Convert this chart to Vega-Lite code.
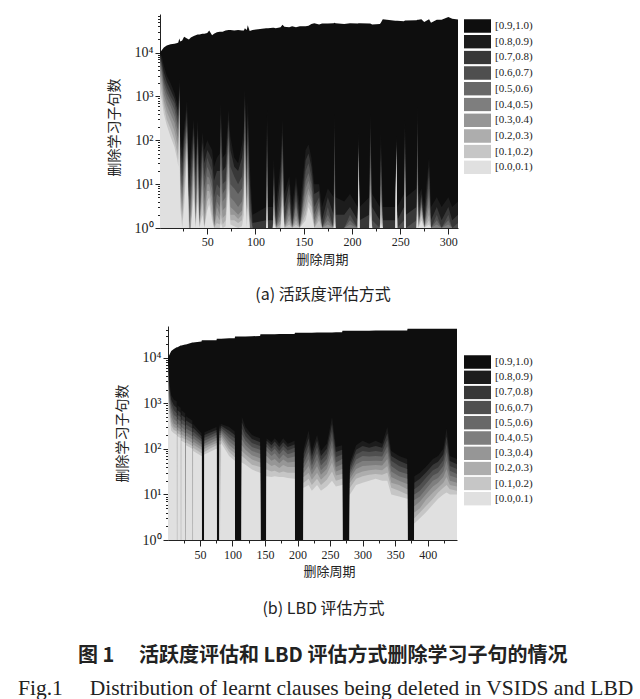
{
  "$schema": "https://vega.github.io/schema/vega-lite/v6.json",
  "background": "white",
  "padding": {"left": 18, "top": 8, "right": 0, "bottom": 0},
  "title": {
    "text": "\u200b\u3000\u3000\u3000图 1\u3000\u00a0活跃度评估和 LBD 评估方式删除学习子句的情况",
    "subtitle": "Fig.1\u00a0\u00a0\u00a0\u00a0\u00a0Distribution of learnt clauses being deleted in VSIDS and LBD",
    "orient": "bottom",
    "anchor": "start",
    "frame": "group",
    "dx": -142,
    "offset": 29,
    "font": "Noto Sans CJK SC",
    "fontSize": 20,
    "fontWeight": "bold",
    "color": "#222222",
    "subtitleFont": "Liberation Serif",
    "subtitleFontSize": 21.5,
    "subtitleColor": "#222222",
    "subtitlePadding": 12
  },
  "datasets": {
    "a": [
      {"x":1,"b9":10000,"b8":9500,"b7":9000,"b6":8000,"b5":7000,"b4":6000,"b3":4500,"b2":3000,"b1":2000,"b0":1200},
      {"x":3,"b9":11500,"b8":8000,"b7":6000,"b6":5000,"b5":4000,"b4":3200,"b3":2500,"b2":1800,"b1":1200,"b0":800},
      {"x":5,"b9":13000,"b8":5000,"b7":3500,"b6":2500,"b5":2000,"b4":1500,"b3":1100,"b2":800,"b1":600,"b0":400},
      {"x":8,"b9":14500,"b8":3000,"b7":2200,"b6":1600,"b5":1200,"b4":900,"b3":650,"b2":450,"b1":300,"b0":220},
      {"x":12,"b9":15500,"b8":2000,"b7":1400,"b6":1000,"b5":800,"b4":600,"b3":400,"b2":280,"b1":180,"b0":120},
      {"x":16,"b9":16000,"b8":1200,"b7":900,"b6":700,"b5":500,"b4":350,"b3":250,"b2":160,"b1":100,"b0":70},
      {"x":19,"b9":16500,"b8":700,"b7":500,"b6":350,"b5":250,"b4":180,"b3":120,"b2":80,"b1":50,"b0":35},
      {"x":20,"b9":17000,"b8":500,"b7":300,"b6":200,"b5":150,"b4":100,"b3":70,"b2":50,"b1":35,"b0":25},
      {"x":21,"b9":21000,"b8":2500,"b7":2000,"b6":1600,"b5":1300,"b4":1000,"b3":800,"b2":600,"b1":400,"b0":250},
      {"x":22,"b9":18000,"b8":120,"b7":70,"b6":40,"b5":25,"b4":18,"b3":12,"b2":8,"b1":5,"b0":3},
      {"x":24,"b9":19000,"b8":60,"b7":30,"b6":15,"b5":8,"b4":5,"b3":3,"b2":2,"b1":1.5,"b0":1},
      {"x":26,"b9":23000,"b8":200,"b7":120,"b6":80,"b5":50,"b4":30,"b3":20,"b2":12,"b1":6,"b0":3},
      {"x":29,"b9":21000,"b8":800,"b7":500,"b6":300,"b5":220,"b4":160,"b3":120,"b2":90,"b1":60,"b0":40},
      {"x":31,"b9":20000,"b8":20,"b7":8,"b6":4,"b5":2,"b4":1,"b3":1,"b2":1,"b1":1,"b0":1},
      {"x":33,"b9":22000,"b8":60,"b7":25,"b6":10,"b5":5,"b4":3,"b3":2,"b2":1,"b1":1,"b0":1},
      {"x":36,"b9":24000,"b8":300,"b7":200,"b6":130,"b5":90,"b4":60,"b3":40,"b2":25,"b1":12,"b0":5},
      {"x":38,"b9":25000,"b8":30,"b7":15,"b6":8,"b5":3,"b4":1,"b3":1,"b2":1,"b1":1,"b0":1},
      {"x":40,"b9":26000,"b8":300,"b7":180,"b6":120,"b5":80,"b4":50,"b3":30,"b2":15,"b1":8,"b0":4},
      {"x":42,"b9":26000,"b8":20,"b7":8,"b6":3,"b5":1,"b4":1,"b3":1,"b2":1,"b1":1,"b0":1},
      {"x":45,"b9":27000,"b8":150,"b7":90,"b6":60,"b5":40,"b4":25,"b3":15,"b2":8,"b1":4,"b0":2},
      {"x":47,"b9":27000,"b8":60,"b7":30,"b6":15,"b5":8,"b4":4,"b3":2,"b2":1,"b1":1,"b0":1},
      {"x":50,"b9":28000,"b8":100,"b7":60,"b6":40,"b5":25,"b4":15,"b3":10,"b2":7,"b1":4,"b0":2.5},
      {"x":52,"b9":32000,"b8":80,"b7":50,"b6":30,"b5":20,"b4":14,"b3":10,"b2":7,"b1":5,"b0":3.5},
      {"x":55,"b9":25000,"b8":60,"b7":35,"b6":20,"b5":12,"b4":8,"b3":5,"b2":3.5,"b1":2,"b0":1.5},
      {"x":57,"b9":27000,"b8":25,"b7":12,"b6":5,"b5":2,"b4":1,"b3":1,"b2":1,"b1":1,"b0":1},
      {"x":60,"b9":29000,"b8":40,"b7":20,"b6":10,"b5":6,"b4":4,"b3":3,"b2":2,"b1":1.3,"b0":1},
      {"x":63,"b9":30000,"b8":50,"b7":20,"b6":8,"b5":5,"b4":3,"b3":2,"b2":1.5,"b1":1.2,"b0":1},
      {"x":64,"b9":30000,"b8":700,"b7":400,"b6":200,"b5":80,"b4":30,"b3":10,"b2":4,"b1":2,"b0":1.3},
      {"x":66,"b9":30000,"b8":40,"b7":20,"b6":10,"b5":6,"b4":4,"b3":2.5,"b2":1.7,"b1":1.2,"b0":1},
      {"x":69,"b9":32000,"b8":50,"b7":25,"b6":12,"b5":8,"b4":5,"b3":3,"b2":2,"b1":1.5,"b0":1.1},
      {"x":72,"b9":33000,"b8":500,"b7":300,"b6":180,"b5":120,"b4":80,"b3":55,"b2":30,"b1":15,"b0":8},
      {"x":74,"b9":33000,"b8":120,"b7":60,"b6":25,"b5":10,"b4":5,"b3":3,"b2":2,"b1":1.5,"b0":1.2},
      {"x":78,"b9":32000,"b8":40,"b7":25,"b6":15,"b5":8,"b4":4,"b3":2.5,"b2":2,"b1":1.5,"b0":1.1},
      {"x":82,"b9":33000,"b8":30,"b7":20,"b6":10,"b5":6,"b4":3,"b3":2,"b2":1.6,"b1":1.3,"b0":1},
      {"x":86,"b9":32000,"b8":80,"b7":40,"b6":15,"b5":8,"b4":4,"b3":2.5,"b2":2,"b1":1.5,"b0":1.1},
      {"x":88,"b9":32000,"b8":200,"b7":100,"b6":50,"b5":25,"b4":15,"b3":10,"b2":6,"b1":4,"b0":2},
      {"x":89,"b9":36000,"b8":1500,"b7":1000,"b6":600,"b5":300,"b4":150,"b3":100,"b2":60,"b1":35,"b0":20},
      {"x":91,"b9":33000,"b8":40,"b7":20,"b6":8,"b5":4,"b4":3,"b3":2,"b2":1.5,"b1":1.2,"b0":1},
      {"x":92,"b9":42000,"b8":800,"b7":400,"b6":200,"b5":100,"b4":50,"b3":25,"b2":12,"b1":6,"b0":3},
      {"x":94,"b9":31000,"b8":30,"b7":12,"b6":5,"b5":2,"b4":1,"b3":1,"b2":1,"b1":1,"b0":1},
      {"x":97,"b9":33000,"b8":2,"b7":1.3,"b6":1,"b5":1,"b4":1,"b3":1,"b2":1,"b1":1,"b0":1},
      {"x":111,"b9":36000,"b8":3,"b7":1.5,"b6":1,"b5":1,"b4":1,"b3":1,"b2":1,"b1":1,"b0":1},
      {"x":112,"b9":36000,"b8":500,"b7":300,"b6":150,"b5":60,"b4":25,"b3":10,"b2":5,"b1":3,"b0":1.5},
      {"x":113,"b9":36000,"b8":3,"b7":1.5,"b6":1,"b5":1,"b4":1,"b3":1,"b2":1,"b1":1,"b0":1},
      {"x":118,"b9":37000,"b8":3,"b7":1.5,"b6":1,"b5":1,"b4":1,"b3":1,"b2":1,"b1":1,"b0":1},
      {"x":119,"b9":37000,"b8":40,"b7":25,"b6":15,"b5":10,"b4":6,"b3":4,"b2":3,"b1":2,"b0":1.3},
      {"x":121,"b9":36000,"b8":3,"b7":1.5,"b6":1,"b5":1,"b4":1,"b3":1,"b2":1,"b1":1,"b0":1},
      {"x":126,"b9":38000,"b8":30,"b7":15,"b6":6,"b5":3,"b4":2,"b3":1.5,"b2":1.2,"b1":1,"b0":1},
      {"x":128,"b9":43000,"b8":300,"b7":150,"b6":80,"b5":40,"b4":20,"b3":12,"b2":7,"b1":5,"b0":3},
      {"x":130,"b9":39000,"b8":6,"b7":3,"b6":1.5,"b5":1.2,"b4":1,"b3":1,"b2":1,"b1":1,"b0":1},
      {"x":135,"b9":38000,"b8":15,"b7":10,"b6":6,"b5":4,"b4":3,"b3":2,"b2":1.5,"b1":1.2,"b0":1},
      {"x":138,"b9":40000,"b8":3,"b7":1.5,"b6":1,"b5":1,"b4":1,"b3":1,"b2":1,"b1":1,"b0":1},
      {"x":142,"b9":38000,"b8":15,"b7":10,"b6":6,"b5":4,"b4":3,"b3":2,"b2":1.5,"b1":1.2,"b0":1},
      {"x":146,"b9":40000,"b8":3,"b7":1.5,"b6":1,"b5":1,"b4":1,"b3":1,"b2":1,"b1":1,"b0":1},
      {"x":152,"b9":40000,"b8":60,"b7":35,"b6":20,"b5":12,"b4":8,"b3":5,"b2":3,"b1":2,"b0":1.5},
      {"x":155,"b9":41000,"b8":80,"b7":50,"b6":30,"b5":18,"b4":12,"b3":8,"b2":6,"b1":4,"b0":3},
      {"x":158,"b9":45000,"b8":40,"b7":25,"b6":15,"b5":10,"b4":7,"b3":5,"b2":4,"b1":3,"b0":2},
      {"x":161,"b9":47000,"b8":10,"b7":6,"b6":3,"b5":2,"b4":1.5,"b3":1.2,"b2":1,"b1":1,"b0":1},
      {"x":166,"b9":44000,"b8":10,"b7":7,"b6":5,"b5":4,"b4":3,"b3":2.5,"b2":2,"b1":1.5,"b0":1},
      {"x":169,"b9":46000,"b8":3,"b7":1.5,"b6":1,"b5":1,"b4":1,"b3":1,"b2":1,"b1":1,"b0":1},
      {"x":175,"b9":46000,"b8":8,"b7":5,"b6":3,"b5":2,"b4":1.5,"b3":1.2,"b2":1,"b1":1,"b0":1},
      {"x":181,"b9":47000,"b8":5,"b7":2,"b6":1,"b5":1,"b4":1,"b3":1,"b2":1,"b1":1,"b0":1},
      {"x":182,"b9":48000,"b8":400,"b7":200,"b6":80,"b5":30,"b4":12,"b3":7,"b2":4,"b1":2,"b0":1.3},
      {"x":183,"b9":47000,"b8":5,"b7":2,"b6":1,"b5":1,"b4":1,"b3":1,"b2":1,"b1":1,"b0":1},
      {"x":192,"b9":45000,"b8":4,"b7":2,"b6":1,"b5":1,"b4":1,"b3":1,"b2":1,"b1":1,"b0":1},
      {"x":198,"b9":47000,"b8":6,"b7":3,"b6":2,"b5":1.5,"b4":1.2,"b3":1,"b2":1,"b1":1,"b0":1},
      {"x":206,"b9":46000,"b8":3,"b7":1.5,"b6":1,"b5":1,"b4":1,"b3":1,"b2":1,"b1":1,"b0":1},
      {"x":207,"b9":47000,"b8":150,"b7":110,"b6":85,"b5":70,"b4":55,"b3":45,"b2":35,"b1":25,"b0":15},
      {"x":208,"b9":47000,"b8":3,"b7":1.5,"b6":1,"b5":1,"b4":1,"b3":1,"b2":1,"b1":1,"b0":1},
      {"x":218,"b9":46000,"b8":5,"b7":2,"b6":1,"b5":1,"b4":1,"b3":1,"b2":1,"b1":1,"b0":1},
      {"x":219,"b9":46000,"b8":400,"b7":200,"b6":100,"b5":50,"b4":25,"b3":12,"b2":7,"b1":4,"b0":2},
      {"x":221,"b9":44000,"b8":6,"b7":3,"b6":1.5,"b5":1,"b4":1,"b3":1,"b2":1,"b1":1,"b0":1},
      {"x":229,"b9":45000,"b8":3,"b7":1.5,"b6":1,"b5":1,"b4":1,"b3":1,"b2":1,"b1":1,"b0":1},
      {"x":230,"b9":48000,"b8":150,"b7":80,"b6":40,"b5":20,"b4":10,"b3":6,"b2":4,"b1":2,"b0":1.3},
      {"x":232,"b9":58000,"b8":3,"b7":1.5,"b6":1,"b5":1,"b4":1,"b3":1,"b2":1,"b1":1,"b0":1},
      {"x":245,"b9":53000,"b8":3,"b7":1.5,"b6":1,"b5":1,"b4":1,"b3":1,"b2":1,"b1":1,"b0":1},
      {"x":246,"b9":53000,"b8":130,"b7":110,"b6":95,"b5":80,"b4":70,"b3":60,"b2":50,"b1":40,"b0":30},
      {"x":247,"b9":53000,"b8":3,"b7":1.5,"b6":1,"b5":1,"b4":1,"b3":1,"b2":1,"b1":1,"b0":1},
      {"x":254,"b9":52000,"b8":6,"b7":3,"b6":1.5,"b5":1,"b4":1,"b3":1,"b2":1,"b1":1,"b0":1},
      {"x":255,"b9":54000,"b8":300,"b7":200,"b6":120,"b5":70,"b4":40,"b3":25,"b2":15,"b1":8,"b0":3},
      {"x":256,"b9":54000,"b8":5,"b7":2,"b6":1,"b5":1,"b4":1,"b3":1,"b2":1,"b1":1,"b0":1},
      {"x":267,"b9":55000,"b8":8,"b7":3,"b6":1.5,"b5":1,"b4":1,"b3":1,"b2":1,"b1":1,"b0":1},
      {"x":268,"b9":56000,"b8":600,"b7":300,"b6":150,"b5":60,"b4":25,"b3":12,"b2":7,"b1":4,"b0":2},
      {"x":269,"b9":56000,"b8":5,"b7":2,"b6":1,"b5":1,"b4":1,"b3":1,"b2":1,"b1":1,"b0":1},
      {"x":272,"b9":58000,"b8":8,"b7":6,"b6":5,"b5":4,"b4":3.5,"b3":3,"b2":2.5,"b1":2,"b0":1.5},
      {"x":275,"b9":50000,"b8":3,"b7":1.5,"b6":1,"b5":1,"b4":1,"b3":1,"b2":1,"b1":1,"b0":1},
      {"x":280,"b9":58000,"b8":40,"b7":25,"b6":15,"b5":8,"b4":5,"b3":3,"b2":2,"b1":1.5,"b0":1.2},
      {"x":282,"b9":48000,"b8":3,"b7":1.5,"b6":1,"b5":1,"b4":1,"b3":1,"b2":1,"b1":1,"b0":1},
      {"x":288,"b9":56000,"b8":5,"b7":3,"b6":2,"b5":1.5,"b4":1.2,"b3":1,"b2":1,"b1":1,"b0":1},
      {"x":293,"b9":56000,"b8":3,"b7":1.5,"b6":1,"b5":1,"b4":1,"b3":1,"b2":1,"b1":1,"b0":1},
      {"x":300,"b9":65000,"b8":5,"b7":3,"b6":2,"b5":1.5,"b4":1.2,"b3":1,"b2":1,"b1":1,"b0":1},
      {"x":304,"b9":59000,"b8":3,"b7":1.5,"b6":1,"b5":1,"b4":1,"b3":1,"b2":1,"b1":1,"b0":1},
      {"x":310,"b9":57000,"b8":4,"b7":2,"b6":1.3,"b5":1,"b4":1,"b3":1,"b2":1,"b1":1,"b0":1}
    ],
    "b": [
      {"x":1,"b9":10000,"b8":9000,"b7":8000,"b6":7000,"b5":6000,"b4":5000,"b3":4000,"b2":3000,"b1":2200,"b0":1500},
      {"x":3,"b9":11500,"b8":3000,"b7":2400,"b6":1900,"b5":1500,"b4":1200,"b3":1000,"b2":800,"b1":650,"b0":500},
      {"x":6,"b9":14000,"b8":1500,"b7":1200,"b6":1000,"b5":800,"b4":650,"b3":500,"b2":400,"b1":320,"b0":250},
      {"x":10,"b9":15500,"b8":1200,"b7":900,"b6":700,"b5":550,"b4":450,"b3":360,"b2":300,"b1":260,"b0":220},
      {"x":14.4,"b9":17000,"b8":1100,"b7":800,"b6":600,"b5":500,"b4":400,"b3":330,"b2":280,"b1":240,"b0":200},
      {"x":14.5,"b9":17000,"b8":1,"b7":1,"b6":1,"b5":1,"b4":1,"b3":1,"b2":1,"b1":1,"b0":1},
      {"x":15.5,"b9":17000,"b8":1,"b7":1,"b6":1,"b5":1,"b4":1,"b3":1,"b2":1,"b1":1,"b0":1},
      {"x":15.6,"b9":17000,"b8":900,"b7":700,"b6":550,"b5":450,"b4":360,"b3":300,"b2":260,"b1":220,"b0":190},
      {"x":20.4,"b9":18500,"b8":800,"b7":620,"b6":500,"b5":400,"b4":320,"b3":270,"b2":230,"b1":200,"b0":170},
      {"x":20.5,"b9":18500,"b8":1,"b7":1,"b6":1,"b5":1,"b4":1,"b3":1,"b2":1,"b1":1,"b0":1},
      {"x":21.5,"b9":18500,"b8":1,"b7":1,"b6":1,"b5":1,"b4":1,"b3":1,"b2":1,"b1":1,"b0":1},
      {"x":21.6,"b9":18500,"b8":700,"b7":550,"b6":440,"b5":360,"b4":300,"b3":250,"b2":210,"b1":180,"b0":150},
      {"x":27.4,"b9":19500,"b8":600,"b7":480,"b6":390,"b5":320,"b4":260,"b3":220,"b2":185,"b1":160,"b0":135},
      {"x":27.5,"b9":19500,"b8":1,"b7":1,"b6":1,"b5":1,"b4":1,"b3":1,"b2":1,"b1":1,"b0":1},
      {"x":28.5,"b9":19500,"b8":1,"b7":1,"b6":1,"b5":1,"b4":1,"b3":1,"b2":1,"b1":1,"b0":1},
      {"x":28.6,"b9":19500,"b8":520,"b7":420,"b6":340,"b5":280,"b4":230,"b3":195,"b2":165,"b1":140,"b0":120},
      {"x":38.4,"b9":21500,"b8":420,"b7":340,"b6":280,"b5":230,"b4":190,"b3":160,"b2":135,"b1":115,"b0":100},
      {"x":38.5,"b9":21500,"b8":1,"b7":1,"b6":1,"b5":1,"b4":1,"b3":1,"b2":1,"b1":1,"b0":1},
      {"x":39.5,"b9":21500,"b8":1,"b7":1,"b6":1,"b5":1,"b4":1,"b3":1,"b2":1,"b1":1,"b0":1},
      {"x":39.6,"b9":21500,"b8":350,"b7":290,"b6":240,"b5":200,"b4":170,"b3":145,"b2":125,"b1":105,"b0":90},
      {"x":52.5,"b9":22500,"b8":220,"b7":190,"b6":165,"b5":145,"b4":125,"b3":110,"b2":95,"b1":80,"b0":70},
      {"x":53,"b9":24000,"b8":1,"b7":1,"b6":1,"b5":1,"b4":1,"b3":1,"b2":1,"b1":1,"b0":1},
      {"x":56.5,"b9":24000,"b8":1,"b7":1,"b6":1,"b5":1,"b4":1,"b3":1,"b2":1,"b1":1,"b0":1},
      {"x":57,"b9":24000,"b8":230,"b7":200,"b6":175,"b5":150,"b4":130,"b3":115,"b2":100,"b1":85,"b0":75},
      {"x":65,"b9":24000,"b8":260,"b7":225,"b6":195,"b5":170,"b4":150,"b3":130,"b2":115,"b1":100,"b0":85},
      {"x":75.5,"b9":24000,"b8":300,"b7":260,"b6":230,"b5":200,"b4":175,"b3":155,"b2":135,"b1":120,"b0":100},
      {"x":76,"b9":26000,"b8":1,"b7":1,"b6":1,"b5":1,"b4":1,"b3":1,"b2":1,"b1":1,"b0":1},
      {"x":80,"b9":26000,"b8":1,"b7":1,"b6":1,"b5":1,"b4":1,"b3":1,"b2":1,"b1":1,"b0":1},
      {"x":80.5,"b9":26000,"b8":340,"b7":310,"b6":280,"b5":250,"b4":225,"b3":200,"b2":175,"b1":150,"b0":125},
      {"x":81.5,"b9":26000,"b8":340,"b7":310,"b6":280,"b5":250,"b4":225,"b3":200,"b2":175,"b1":150,"b0":125},
      {"x":82,"b9":26000,"b8":1,"b7":1,"b6":1,"b5":1,"b4":1,"b3":1,"b2":1,"b1":1,"b0":1},
      {"x":82.6,"b9":26000,"b8":350,"b7":320,"b6":290,"b5":260,"b4":235,"b3":210,"b2":185,"b1":160,"b0":135},
      {"x":95,"b9":26500,"b8":300,"b7":250,"b6":210,"b5":175,"b4":145,"b3":120,"b2":100,"b1":85,"b0":70},
      {"x":103.5,"b9":26500,"b8":240,"b7":200,"b6":170,"b5":140,"b4":115,"b3":95,"b2":80,"b1":65,"b0":55},
      {"x":104,"b9":29000,"b8":1,"b7":1,"b6":1,"b5":1,"b4":1,"b3":1,"b2":1,"b1":1,"b0":1},
      {"x":114,"b9":29000,"b8":1,"b7":1,"b6":1,"b5":1,"b4":1,"b3":1,"b2":1,"b1":1,"b0":1},
      {"x":114.5,"b9":29000,"b8":500,"b7":380,"b6":280,"b5":210,"b4":160,"b3":120,"b2":90,"b1":70,"b0":50},
      {"x":120,"b9":29000,"b8":300,"b7":240,"b6":190,"b5":150,"b4":120,"b3":95,"b2":75,"b1":60,"b0":45},
      {"x":130,"b9":29500,"b8":200,"b7":165,"b6":135,"b5":110,"b4":90,"b3":72,"b2":58,"b1":45,"b0":35},
      {"x":142.5,"b9":30000,"b8":170,"b7":140,"b6":115,"b5":95,"b4":78,"b3":62,"b2":50,"b1":40,"b0":30},
      {"x":143,"b9":32500,"b8":1,"b7":1,"b6":1,"b5":1,"b4":1,"b3":1,"b2":1,"b1":1,"b0":1},
      {"x":152,"b9":32500,"b8":1,"b7":1,"b6":1,"b5":1,"b4":1,"b3":1,"b2":1,"b1":1,"b0":1},
      {"x":152.5,"b9":32500,"b8":170,"b7":150,"b6":130,"b5":110,"b4":90,"b3":70,"b2":50,"b1":35,"b0":25},
      {"x":160,"b9":32500,"b8":140,"b7":120,"b6":100,"b5":85,"b4":70,"b3":55,"b2":42,"b1":32,"b0":24},
      {"x":165,"b9":32500,"b8":170,"b7":145,"b6":120,"b5":100,"b4":80,"b3":60,"b2":45,"b1":33,"b0":25},
      {"x":172,"b9":33000,"b8":130,"b7":110,"b6":90,"b5":75,"b4":60,"b3":48,"b2":38,"b1":30,"b0":24},
      {"x":178,"b9":33000,"b8":170,"b7":140,"b6":115,"b5":95,"b4":75,"b3":58,"b2":44,"b1":32,"b0":24},
      {"x":185,"b9":33000,"b8":130,"b7":110,"b6":92,"b5":76,"b4":62,"b3":50,"b2":40,"b1":30,"b0":23},
      {"x":195.5,"b9":33000,"b8":150,"b7":125,"b6":105,"b5":85,"b4":68,"b3":52,"b2":40,"b1":30,"b0":22},
      {"x":196,"b9":35000,"b8":1,"b7":1,"b6":1,"b5":1,"b4":1,"b3":1,"b2":1,"b1":1,"b0":1},
      {"x":209,"b9":35000,"b8":1,"b7":1,"b6":1,"b5":1,"b4":1,"b3":1,"b2":1,"b1":1,"b0":1},
      {"x":209.5,"b9":35000,"b8":100,"b7":80,"b6":62,"b5":48,"b4":38,"b3":30,"b2":24,"b1":18,"b0":14},
      {"x":217,"b9":35000,"b8":250,"b7":170,"b6":120,"b5":85,"b4":60,"b3":42,"b2":30,"b1":22,"b0":16},
      {"x":222,"b9":35000,"b8":90,"b7":70,"b6":55,"b5":43,"b4":34,"b3":27,"b2":21,"b1":16,"b0":12},
      {"x":230,"b9":35500,"b8":200,"b7":150,"b6":110,"b5":80,"b4":58,"b3":42,"b2":30,"b1":22,"b0":16},
      {"x":236,"b9":35500,"b8":90,"b7":70,"b6":55,"b5":43,"b4":34,"b3":27,"b2":21,"b1":16,"b0":12},
      {"x":245,"b9":35500,"b8":130,"b7":100,"b6":78,"b5":60,"b4":46,"b3":36,"b2":28,"b1":21,"b0":15},
      {"x":253,"b9":35500,"b8":500,"b7":350,"b6":240,"b5":160,"b4":110,"b3":75,"b2":50,"b1":32,"b0":20},
      {"x":259,"b9":36000,"b8":110,"b7":85,"b6":66,"b5":50,"b4":40,"b3":32,"b2":26,"b1":20,"b0":15},
      {"x":268.5,"b9":36000,"b8":120,"b7":95,"b6":75,"b5":60,"b4":46,"b3":36,"b2":28,"b1":22,"b0":16},
      {"x":269,"b9":39000,"b8":1,"b7":1,"b6":1,"b5":1,"b4":1,"b3":1,"b2":1,"b1":1,"b0":1},
      {"x":280,"b9":39000,"b8":1,"b7":1,"b6":1,"b5":1,"b4":1,"b3":1,"b2":1,"b1":1,"b0":1},
      {"x":280.5,"b9":39000,"b8":50,"b7":42,"b6":35,"b5":30,"b4":26,"b3":22,"b2":18,"b1":14,"b0":10},
      {"x":290,"b9":39000,"b8":120,"b7":95,"b6":75,"b5":58,"b4":46,"b3":36,"b2":28,"b1":22,"b0":16},
      {"x":300,"b9":39000,"b8":150,"b7":115,"b6":90,"b5":70,"b4":54,"b3":42,"b2":32,"b1":25,"b0":18},
      {"x":310,"b9":39000,"b8":130,"b7":105,"b6":85,"b5":68,"b4":54,"b3":43,"b2":34,"b1":27,"b0":20},
      {"x":320,"b9":39500,"b8":150,"b7":115,"b6":90,"b5":70,"b4":55,"b3":44,"b2":35,"b1":28,"b0":22},
      {"x":330,"b9":39500,"b8":130,"b7":105,"b6":85,"b5":68,"b4":54,"b3":43,"b2":34,"b1":27,"b0":20},
      {"x":338,"b9":39500,"b8":300,"b7":220,"b6":160,"b5":115,"b4":85,"b3":60,"b2":42,"b1":30,"b0":20},
      {"x":344,"b9":39500,"b8":90,"b7":70,"b6":55,"b5":42,"b4":32,"b3":24,"b2":18,"b1":14,"b0":10},
      {"x":356,"b9":39500,"b8":70,"b7":55,"b6":42,"b5":32,"b4":25,"b3":20,"b2":16,"b1":12,"b0":9},
      {"x":368.5,"b9":39500,"b8":60,"b7":46,"b6":36,"b5":28,"b4":22,"b3":17,"b2":13,"b1":10,"b0":8},
      {"x":369,"b9":43000,"b8":1,"b7":1,"b6":1,"b5":1,"b4":1,"b3":1,"b2":1,"b1":1,"b0":1},
      {"x":379,"b9":43000,"b8":1,"b7":1,"b6":1,"b5":1,"b4":1,"b3":1,"b2":1,"b1":1,"b0":1},
      {"x":379.5,"b9":43000,"b8":25,"b7":18,"b6":13,"b5":10,"b4":7.5,"b3":5.5,"b2":4,"b1":3,"b0":2.3},
      {"x":388,"b9":43000,"b8":30,"b7":22,"b6":16,"b5":12,"b4":9,"b3":7,"b2":5,"b1":4,"b0":3},
      {"x":397,"b9":43000,"b8":40,"b7":30,"b6":23,"b5":17,"b4":13,"b3":10,"b2":7.5,"b1":5.5,"b0":4},
      {"x":408,"b9":43000,"b8":60,"b7":45,"b6":34,"b5":26,"b4":20,"b3":15,"b2":11,"b1":8,"b0":6},
      {"x":416,"b9":43000,"b8":70,"b7":52,"b6":39,"b5":30,"b4":23,"b3":18,"b2":14,"b1":11,"b0":8},
      {"x":424,"b9":43000,"b8":100,"b7":75,"b6":56,"b5":42,"b4":32,"b3":24,"b2":18,"b1":14,"b0":10},
      {"x":429,"b9":43000,"b8":280,"b7":190,"b6":130,"b5":85,"b4":55,"b3":36,"b2":24,"b1":16,"b0":11},
      {"x":434,"b9":43000,"b8":70,"b7":54,"b6":42,"b5":33,"b4":26,"b3":20,"b2":16,"b1":13,"b0":10},
      {"x":445,"b9":43000,"b8":60,"b7":46,"b6":36,"b5":28,"b4":23,"b3":18,"b2":15,"b1":12,"b0":10}
    ]
  },
  "spacing": 20,
  "vconcat": [
    {
      "width": 298,
      "height": 214,
      "title": {
        "text": "(a) 活跃度评估方式",
        "orient": "bottom",
        "anchor": "middle",
        "dx": 14,
        "offset": 21,
        "font": "Noto Sans CJK SC",
        "fontSize": 16,
        "fontWeight": "normal",
        "color": "#222222"
      },
      "data": {"name": "a"},
      "transform": [
        {"fold": ["b9", "b8", "b7", "b6", "b5", "b4", "b3", "b2", "b1", "b0"], "as": ["band", "top"]}
      ],
      "mark": {"type": "area", "interpolate": "linear"},
      "encoding": {
        "x": {
          "field": "x",
          "type": "quantitative",
          "title": "删除周期",
          "scale": {"domain": [1, 310], "nice": false, "zero": false},
          "axis": {
            "values": [25, 50, 75, 100, 125, 150, 175, 200, 225, 250, 275, 300],
            "labelExpr": "datum.value % 50 == 0 ? datum.label : ''",
            "tickSize": {"condition": {"test": "datum.value % 50 == 0", "value": 6}, "value": 3},
            "labelFont": "Liberation Serif",
            "labelFontSize": 12,
            "labelColor": "#222222",
            "labelPadding": 2,
            "titleFont": "Noto Sans CJK SC",
            "titleFontSize": 13,
            "titleFontWeight": "normal",
            "titleColor": "#222222",
            "titlePadding": 6,
            "titleX": 162,
            "grid": false,
            "domainColor": "#222222",
            "tickColor": "#222222"
          }
        },
        "y": {
          "field": "top",
          "type": "quantitative",
          "stack": null,
          "title": "删除学习子句数",
          "scale": {"type": "log", "domain": [1, 76000], "nice": false, "clamp": true},
          "axis": {
            "values": [1, 2, 3, 4, 5, 6, 7, 8, 9, 10, 20, 30, 40, 50, 60, 70, 80, 90, 100, 200, 300, 400, 500, 600, 700, 800, 900, 1000, 2000, 3000, 4000, 5000, 6000, 7000, 8000, 9000, 10000, 20000, 30000, 40000, 50000, 60000, 70000],
            "labelExpr": "datum.value == 1 ? '10⁰' : datum.value == 10 ? '10¹' : datum.value == 100 ? '10²' : datum.value == 1000 ? '10³' : datum.value == 10000 ? '10⁴' : ''",
            "tickSize": {"condition": {"test": "datum.value == 1 || datum.value == 10 || datum.value == 100 || datum.value == 1000 || datum.value == 10000", "value": 5}, "value": 2.5},
            "labelOverlap": false,
            "labelFont": "Liberation Serif",
            "labelFontSize": 14,
            "labelColor": "#222222",
            "titleFont": "Noto Sans CJK SC",
            "titleFontSize": 14,
            "titleFontWeight": "normal",
            "titleColor": "#222222",
            "titlePadding": 13,
            "titleY": 113,
            "grid": false,
            "domainColor": "#222222",
            "tickColor": "#222222"
          }
        },
        "y2": {"datum": 1},
        "color": {
          "field": "band",
          "type": "nominal",
          "scale": {
            "domain": ["b9", "b8", "b7", "b6", "b5", "b4", "b3", "b2", "b1", "b0"],
            "range": ["#0e0e0e", "#1c1c1c", "#383838", "#4f4f4f", "#686868", "#7e7e7e", "#969696", "#adadad", "#c6c6c6", "#e0e0e0"]
          },
          "legend": {
            "orient": "none",
            "legendX": 304,
            "legendY": 5,
            "title": null,
            "symbolType": "M-1,-0.5H1V0.5H-1Z",
            "symbolSize": 729,
            "symbolStrokeWidth": 0,
            "symbolOpacity": 1,
            "clipHeight": 14,
            "rowPadding": 1.7,
            "labelFont": "Liberation Serif",
            "labelFontSize": 11,
            "labelColor": "#222222",
            "labelExpr": "{b9: '[0.9,1.0)', b8: '[0.8,0.9)', b7: '[0.7,0.8)', b6: '[0.6,0.7)', b5: '[0.5,0.6)', b4: '[0.4,0.5)', b3: '[0.3,0.4)', b2: '[0.2,0.3)', b1: '[0.1,0.2)', b0: '[0.0,0.1)'}[datum.label]"
          }
        }
      }
    },
    {
      "width": 297,
      "height": 214,
      "title": {
        "text": "(b) LBD 评估方式",
        "orient": "bottom",
        "anchor": "middle",
        "dx": 15,
        "offset": 23,
        "font": "Noto Sans CJK SC",
        "fontSize": 16,
        "fontWeight": "normal",
        "color": "#222222"
      },
      "data": {"name": "b"},
      "transform": [
        {"fold": ["b9", "b8", "b7", "b6", "b5", "b4", "b3", "b2", "b1", "b0"], "as": ["band", "top"]}
      ],
      "mark": {"type": "area", "interpolate": "linear"},
      "encoding": {
        "x": {
          "field": "x",
          "type": "quantitative",
          "title": "删除周期",
          "scale": {"domain": [1, 445], "nice": false, "zero": false, "range": [8, 297]},
          "axis": {
            "values": [25, 50, 75, 100, 125, 150, 175, 200, 225, 250, 275, 300, 325, 350, 375, 400, 425],
            "labelExpr": "datum.value % 50 == 0 ? datum.label : ''",
            "tickSize": {"condition": {"test": "datum.value % 50 == 0", "value": 6}, "value": 3},
            "labelFont": "Liberation Serif",
            "labelFontSize": 12,
            "labelColor": "#222222",
            "labelPadding": 3,
            "titleFont": "Noto Sans CJK SC",
            "titleFontSize": 13,
            "titleFontWeight": "normal",
            "titleColor": "#222222",
            "titlePadding": 5,
            "titleX": 169,
            "grid": false,
            "domainColor": "#222222",
            "tickColor": "#222222"
          }
        },
        "y": {
          "field": "top",
          "type": "quantitative",
          "stack": null,
          "title": "删除学习子句数",
          "scale": {"type": "log", "domain": [1, 49500], "nice": false, "clamp": true},
          "axis": {
            "offset": -8,
            "values": [1, 2, 3, 4, 5, 6, 7, 8, 9, 10, 20, 30, 40, 50, 60, 70, 80, 90, 100, 200, 300, 400, 500, 600, 700, 800, 900, 1000, 2000, 3000, 4000, 5000, 6000, 7000, 8000, 9000, 10000, 20000, 30000, 40000],
            "labelExpr": "datum.value == 1 ? '10⁰' : datum.value == 10 ? '10¹' : datum.value == 100 ? '10²' : datum.value == 1000 ? '10³' : datum.value == 10000 ? '10⁴' : ''",
            "tickSize": {"condition": {"test": "datum.value == 1 || datum.value == 10 || datum.value == 100 || datum.value == 1000 || datum.value == 10000", "value": 5}, "value": 2.5},
            "labelOverlap": false,
            "labelFont": "Liberation Serif",
            "labelFontSize": 14,
            "labelColor": "#222222",
            "titleFont": "Noto Sans CJK SC",
            "titleFontSize": 14,
            "titleFontWeight": "normal",
            "titleColor": "#222222",
            "titlePadding": 13,
            "grid": false,
            "domainColor": "#222222",
            "tickColor": "#222222"
          }
        },
        "y2": {"datum": 1},
        "color": {
          "field": "band",
          "type": "nominal",
          "scale": {
            "domain": ["b9", "b8", "b7", "b6", "b5", "b4", "b3", "b2", "b1", "b0"],
            "range": ["#0e0e0e", "#1c1c1c", "#383838", "#4f4f4f", "#686868", "#7e7e7e", "#969696", "#adadad", "#c6c6c6", "#e0e0e0"]
          },
          "legend": {
            "orient": "none",
            "legendX": 304,
            "legendY": 29,
            "title": null,
            "symbolType": "M-1,-0.5H1V0.5H-1Z",
            "symbolSize": 729,
            "symbolStrokeWidth": 0,
            "symbolOpacity": 1,
            "clipHeight": 14,
            "rowPadding": 1.2,
            "labelFont": "Liberation Serif",
            "labelFontSize": 11,
            "labelColor": "#222222",
            "labelExpr": "{b9: '[0.9,1.0)', b8: '[0.8,0.9)', b7: '[0.7,0.8)', b6: '[0.6,0.7)', b5: '[0.5,0.6)', b4: '[0.4,0.5)', b3: '[0.3,0.4)', b2: '[0.2,0.3)', b1: '[0.1,0.2)', b0: '[0.0,0.1)'}[datum.label]"
          }
        }
      }
    }
  ],
  "resolve": {"scale": {"color": "independent"}},
  "config": {"view": {"stroke": null}}
}
